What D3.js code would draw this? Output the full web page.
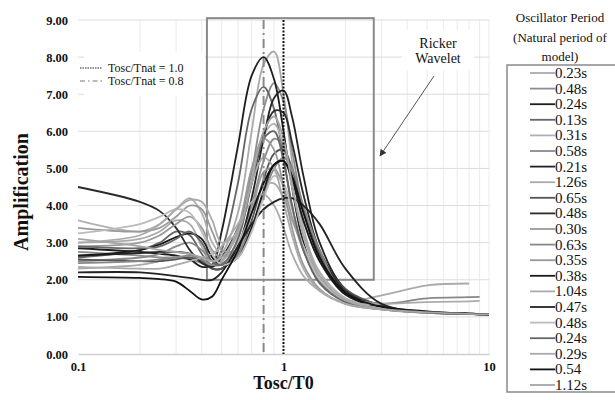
<!DOCTYPE html>
<meta charset="utf-8">
<style>
body { margin: 0; background: #fff; }
text { font-family: 'Liberation Serif', 'Times New Roman', serif; fill: #111; }
</style>
<script src="https://d3js.org/d3.v7.min.js"></script>
<div id="chart"></div>
<script>
var ratios = [0.1, 0.2, 0.25, 0.3, 0.35, 0.4, 0.45, 0.5, 0.6, 0.7, 0.8, 0.9, 1.0, 1.1, 1.25, 1.5, 2, 3, 5, 8, 9, 10];

var periods = ["0.23s","0.48s","0.24s","0.13s","0.31s","0.58s","0.21s","1.26s","0.65s","0.48s","0.30s",
               "0.63s","0.35s","0.38s","1.04s","0.47s","0.48s","0.24s","0.29s","0.54","1.12s"];
var shades = ["#aaaaaa","#8c8c8c","#1e1e1e","#666666","#b0b0b0","#8a8a8a","#222222","#aaaaaa","#555555","#2a2a2a","#9a9a9a",
              "#888888","#999999","#1a1a1a","#ababab","#222222","#bbbbbb","#666666","#aaaaaa","#111111","#a5a5a5"];

var a023 = [3.0, 3.1, 3.3, 3.6, 3.5, 2.9, 2.5, 2.7, 3.8, 6.0, 7.8, 8.15, 7.0, 5.2, 3.4, 2.2, 1.5, 1.25, 1.12, 1.08, 1.07, 1.06];
var a048 = [2.75, 2.65, 2.6, 2.6, 2.55, 2.45, 2.35, 2.5, 3.3, 4.9, 6.6, 7.3, 6.8, 5.5, 3.9, 2.6, 1.65, 1.28, 1.13, 1.09, 1.08, 1.07];
var a024 = [2.85, 2.75, 2.7, 2.65, 2.55, 2.35, 2.4, 3.3, 5.6, 7.5, 8.0, 7.4, 6.0, 4.5, 3.0, 2.0, 1.45, 1.22, 1.12, 1.08, 1.07, 1.07];
var a013 = [2.6, 2.8, 3.0, 3.3, 3.2, 2.7, 2.4, 2.8, 4.6, 6.6, 7.2, 6.6, 5.3, 4.0, 2.8, 1.95, 1.45, 1.22, 1.12, 1.08, 1.07, 1.06];
var a031 = [3.6, 3.3, 3.5, 3.9, 4.2, 3.8, 3.0, 2.7, 3.2, 4.6, 5.9, 6.2, 5.6, 4.5, 3.2, 2.2, 1.5, 1.25, 1.13, 1.09, 1.08, 1.08];
var a058 = [2.5, 2.6, 2.7, 2.9, 3.0, 2.8, 2.5, 2.45, 2.9, 4.0, 5.2, 5.8, 5.6, 4.8, 3.6, 2.5, 1.65, 1.3, 1.14, 1.09, 1.08, 1.08];
var a021 = [2.65, 2.72, 2.75, 2.75, 2.7, 2.55, 2.3, 2.3, 2.9, 4.2, 5.8, 6.9, 7.1, 6.4, 4.8, 3.0, 1.75, 1.3, 1.13, 1.09, 1.08, 1.07];
var a126 = [2.3, 2.4, 2.5, 2.6, 2.6, 2.5, 2.4, 2.5, 3.0, 3.8, 4.5, 4.6, 4.2, 3.6, 2.9, 2.1, 1.45, 1.58, 1.85, 1.9, null, null];
var a065 = [2.55, 2.5, 2.5, 2.55, 2.6, 2.5, 2.3, 2.3, 2.7, 3.6, 4.7, 5.4, 5.5, 5.0, 3.9, 2.7, 1.75, 1.3, 1.13, 1.08, 1.07, 1.07];
var a048b = [4.5, 4.1, 3.85, 3.4, 2.8, 2.45, 2.35, 2.6, 3.4, 4.6, 5.9, 6.55, 6.5, 5.7, 4.3, 2.8, 1.7, 1.28, 1.12, 1.08, 1.07, 1.06];
var a030 = [3.4, 3.3, 3.4, 3.7, 4.0, 3.9, 3.3, 2.8, 2.8, 3.8, 4.9, 5.0, 4.5, 3.7, 2.8, 2.0, 1.45, 1.22, 1.12, 1.08, 1.07, 1.07];
var a063 = [2.45, 2.5, 2.55, 2.6, 2.65, 2.55, 2.4, 2.4, 2.7, 3.4, 4.3, 5.0, 5.3, 5.0, 4.0, 2.8, 1.6, 1.36, 1.5, 1.53, 1.54, null];
var a035 = [2.9, 3.0, 3.2, 3.5, 3.7, 3.4, 2.8, 2.6, 3.4, 5.0, 5.8, 5.5, 4.5, 3.4, 2.4, 1.75, 1.35, 1.2, 1.11, 1.08, 1.07, 1.07];
var a038 = [2.65, 2.8, 2.95, 3.15, 3.25, 3.1, 2.6, 2.4, 2.6, 3.4, 4.4, 5.1, 5.2, 4.7, 3.6, 2.5, 1.6, 1.27, 1.12, 1.08, 1.07, 1.06];
var a104 = [2.35, 2.3, 2.3, 2.4, 2.5, 2.6, 2.7, 2.9, 3.5, 4.1, 4.3, 4.0, 3.4, 2.7, 2.1, 1.7, 1.38, 1.35, 1.4, 1.42, 1.43, null];
var a047 = [2.2, 2.2, 2.15, 2.1, 2.05, 2.0, 2.0, 2.2, 2.9, 3.5, 3.9, 4.1, 4.2, 4.2, 4.0, 3.5, 2.3, 1.35, 1.15, 1.09, 1.08, 1.08];
var a048c = [3.25, 3.5, 3.7, 3.9, 3.8, 3.3, 2.7, 2.4, 2.6, 3.3, 4.2, 4.8, 4.6, 3.9, 2.9, 2.0, 1.45, 1.22, 1.12, 1.08, 1.07, 1.07];
var a024b = [2.9, 2.85, 2.9, 3.1, 3.3, 3.0, 2.5, 2.4, 3.1, 4.6, 5.8, 6.0, 5.2, 4.0, 2.8, 1.9, 1.4, 1.2, 1.11, 1.08, 1.07, 1.06];
var a029 = [3.0, 3.2, 3.5, 3.9, 4.15, 4.1, 3.6, 3.0, 3.3, 4.6, 5.3, 5.0, 4.1, 3.2, 2.3, 1.7, 1.35, 1.2, 1.11, 1.08, 1.07, 1.07];
var a054 = [2.08, 2.05, 2.02, 1.95, 1.7, 1.47, 1.55, 2.0, 2.8, 3.8, 4.6, 5.1, 5.2, 4.8, 3.8, 2.6, 1.65, 1.27, 1.12, 1.08, 1.07, 1.06];
var a112 = [3.1, 2.9, 2.8, 2.75, 2.7, 2.6, 2.5, 2.6, 3.3, 4.7, 6.0, 6.4, 5.8, 4.6, 3.2, 2.1, 1.45, 1.22, 1.12, 1.08, 1.07, 1.07];

var amps = [a023, a048, a024, a013, a031, a058, a021, a126, a065, a048b, a030,
            a063, a035, a038, a104, a047, a048c, a024b, a029, a054, a112];

var yTicks = [0, 1, 2, 3, 4, 5, 6, 7, 8, 9];
var xTicks = [0.1, 1, 10];
var xGrid = [0.2, 0.3, 0.4, 0.5, 0.6, 0.7, 0.8, 0.9, 2, 3, 4, 5, 6, 7, 8, 9, 10];

var W = 615, H = 400;
var svg = d3.select("#chart").append("svg").attr("width", W).attr("height", H);

var x = d3.scaleLog().domain([0.1, 10]).range([78, 489]);
var y = d3.scaleLinear().domain([0, 9]).range([354, 20]);

// gridlines
svg.append("g").selectAll("line").data(xGrid).enter().append("line")
  .attr("x1", d => x(d)).attr("x2", d => x(d))
  .attr("y1", y(9)).attr("y2", y(0))
  .style("stroke", "#ebebeb").style("stroke-width", 1);
svg.append("g").selectAll("line").data(yTicks.slice(1)).enter().append("line")
  .attr("x1", x(0.1)).attr("x2", x(10))
  .attr("y1", d => y(d)).attr("y2", d => y(d))
  .style("stroke", "#dcdcdc").style("stroke-width", 1);

// axes
var yAxis = svg.append("g").attr("transform", "translate(" + x(0.1) + ",0)")
  .call(d3.axisLeft(y).tickValues(yTicks).tickFormat(d3.format(".2f")).tickSize(0).tickPadding(10));
yAxis.select(".domain").remove();
var xAxis = svg.append("g").attr("transform", "translate(0," + y(0) + ")")
  .call(d3.axisBottom(x).tickValues(xTicks).tickFormat(d3.format("")).tickSize(0).tickPadding(8));
xAxis.select(".domain").style("stroke", "#cfcfcf").style("stroke-width", 1.5);
[yAxis, xAxis].forEach(function (g) {
  g.attr("font-family", null).attr("font-size", null);
  g.selectAll("text")
    .style("font-family", "'Liberation Serif', 'Times New Roman', serif")
    .style("font-weight", "bold").style("font-size", "12.5px").style("fill", "#111");
});

// Ricker wavelet box
svg.append("rect")
  .attr("x", x(0.424)).attr("y", y(9.05))
  .attr("width", x(2.75) - x(0.424)).attr("height", y(2) - y(9.05))
  .style("fill", "none").style("stroke", "#8a8a8a").style("stroke-width", 2);

// curves
var line = d3.line()
  .defined(d => d[1] != null)
  .x(d => x(d[0])).y(d => y(d[1]))
  .curve(d3.curveCatmullRom.alpha(0.5));

svg.append("g").selectAll("path").data(amps).enter().append("path")
  .attr("d", d => line(ratios.map((r, i) => [r, d[i]])))
  .style("fill", "none")
  .style("stroke", (d, i) => shades[i])
  .style("stroke-width", 1.8);

// reference lines
svg.append("line")
  .attr("x1", x(0.8)).attr("x2", x(0.8)).attr("y1", y(9)).attr("y2", y(0))
  .style("stroke", "#8a8a8a").style("stroke-width", 2).style("stroke-dasharray", "9,4,2,4");
svg.append("line")
  .attr("x1", x(1)).attr("x2", x(1)).attr("y1", y(9)).attr("y2", y(0))
  .style("stroke", "#111").style("stroke-width", 2).style("stroke-dasharray", "2,1.5");

// small legend top-left
svg.append("rect").attr("x", 84).attr("y", 52).attr("width", 121).attr("height", 44).style("fill", "#fff");
svg.append("line").attr("x1", 80).attr("x2", 102).attr("y1", 68).attr("y2", 68)
  .style("stroke", "#222").style("stroke-width", 1.2).style("stroke-dasharray", "1.5,1");
svg.append("line").attr("x1", 80).attr("x2", 102).attr("y1", 81).attr("y2", 81)
  .style("stroke", "#777").style("stroke-width", 1.2).style("stroke-dasharray", "5,3,1.5,3");
svg.append("text").attr("x", 108).attr("y", 72).style("font-size", "12px").text("Tosc/Tnat = 1.0");
svg.append("text").attr("x", 108).attr("y", 85).style("font-size", "12px").text("Tosc/Tnat = 0.8");

// Ricker wavelet label and arrow
svg.append("rect").attr("x", 402).attr("y", 30).attr("width", 72).attr("height", 40).style("fill", "#fff");
svg.append("text").attr("x", 438).attr("y", 48).attr("text-anchor", "middle").style("font-size", "14px").text("Ricker");
svg.append("text").attr("x", 438).attr("y", 63).attr("text-anchor", "middle").style("font-size", "14px").text("Wavelet");
svg.append("defs").append("marker").attr("id", "arr")
  .attr("viewBox", "0 0 10 10").attr("refX", 9).attr("refY", 5)
  .attr("markerWidth", 7).attr("markerHeight", 7).attr("orient", "auto")
  .append("path").attr("d", "M0,0L10,5L0,10z").style("fill", "#333");
svg.append("line").attr("x1", 434).attr("y1", 76).attr("x2", 380).attr("y2", 156)
  .style("stroke", "#555").style("stroke-width", 1).attr("marker-end", "url(#arr)");

// axis titles
svg.append("text").attr("x", x(1)).attr("y", 389).attr("text-anchor", "middle")
  .style("font-size", "18px").style("font-weight", "bold").text("Tosc/T0");
svg.append("text").attr("transform", "translate(28,192) rotate(-90)").attr("text-anchor", "middle")
  .style("font-size", "20px").style("font-weight", "bold").text("Amplification");

// right legend
var lg = svg.append("g");
["Oscillator Period", "(Natural period of", "model)"].forEach(function (t, i) {
  lg.append("text").attr("x", 560).attr("y", 22 + i * 19.5).attr("text-anchor", "middle")
    .style("font-size", "13px").text(t);
});
lg.append("rect").attr("x", 507).attr("y", 65).attr("width", 115).attr("height", 327)
  .style("fill", "#fff").style("stroke", "#8a8a8a").style("stroke-width", 1.5);
var rows = lg.selectAll("g.row").data(periods).enter().append("g")
  .attr("transform", (d, i) => "translate(0," + (73 + i * 15.6) + ")");
rows.append("line").attr("x1", 530).attr("x2", 555).attr("y1", 0).attr("y2", 0)
  .style("stroke", (d, i) => shades[i]).style("stroke-width", 1.8);
rows.append("text").attr("x", 555).attr("y", 5).style("font-size", "15px").text(d => d);
</script>
